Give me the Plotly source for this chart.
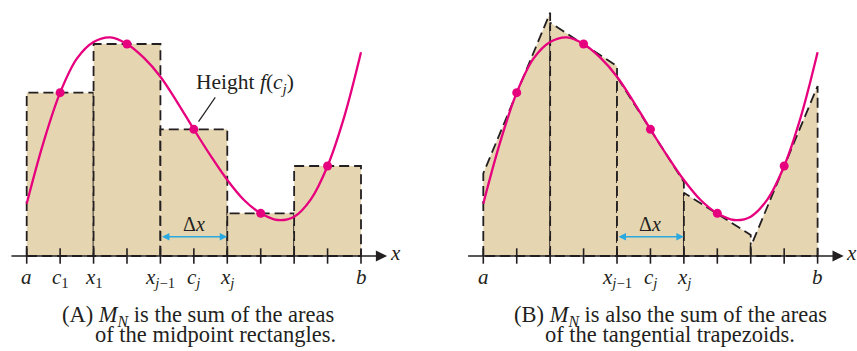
import plotly.graph_objects as go

# ---------------- data ----------------
nodes = [0, 2, 4, 6, 8, 10]                 # partition points a=x0 ... b=x5
mids = [1, 3, 5, 7, 9]                      # midpoints c_j
f_mid = [4.90, 6.36, 3.80, 1.28, 2.70]      # f(c_j) = rectangle heights
tan_left = [2.48, 7.00, 5.37, 1.90, 0.28]   # tangent-line height at left end
tan_right = [7.30, 5.70, 2.22, 0.63, 5.10]  # tangent-line height at right end

curve_x = [0, 0.5, 1, 1.5, 2, 2.5, 3, 3.5, 4, 4.5, 5,
           5.5, 6, 6.5, 7, 7.5, 8, 8.5, 9, 9.5, 10]
curve_y = [1.57, 3.40, 4.90, 5.92, 6.42, 6.56, 6.36, 5.95, 5.38, 4.62, 3.80,
           3.01, 2.28, 1.68, 1.28, 1.08, 1.18, 1.70, 2.70, 4.18, 6.11]

tick_x = [0, 1, 2, 3, 4, 5, 6, 7, 8, 9, 10]
tickpos_A = [0, 1, 2, 4, 5, 6, 10]
ticklab_A = ["<i>a</i>", "<i>c</i><sub>1</sub>", "<i>x</i><sub>1</sub>",
             "<i>x</i><sub><i>j</i>−1</sub>", "<i>c<sub>j</sub></i>",
             "<i>x<sub>j</sub></i>", "<i>b</i>"]
tickpos_B = [0, 4, 5, 6, 10]
ticklab_B = ["<i>a</i>", "<i>x</i><sub><i>j</i>−1</sub>", "<i>c<sub>j</sub></i>",
             "<i>x<sub>j</sub></i>", "<i>b</i>"]

caption_A = ["(A) <i>M<sub>N</sub></i> is the sum of the areas",
             "of the midpoint rectangles."]
caption_B = ["(B) <i>M<sub>N</sub></i> is also the sum of the areas",
             "of the tangential trapezoids."]

# ---------------- style ----------------
W, H = 857, 351
FILL = "#E6D5B1"
INK = "#231F20"
MAG = "#E6007E"
CYAN = "#29A9E0"
FONT = "Liberation Serif"
DASH = "10px,5px"

axis_start, axis_tip, x_label_pos = -0.5, 10.78, 11.02
dx_y, dx_label_y = 0.58, 0.95

fig = go.Figure()


def panel(xa, ya, tops_left, tops_right):
    # filled shapes
    for i in range(len(mids)):
        x0, x1 = nodes[i], nodes[i + 1]
        fig.add_trace(go.Scatter(
            x=[x0, x0, x1, x1, x0], y=[0, tops_left[i], tops_right[i], 0, 0],
            mode="lines", fill="toself", fillcolor=FILL,
            line=dict(color=INK, width=1.8, dash=DASH),
            xaxis=xa, yaxis=ya, hoverinfo="skip", showlegend=False))
    # tick marks
    fig.add_trace(go.Scatter(
        x=tick_x, y=[0] * len(tick_x), mode="markers",
        marker=dict(symbol="line-ns", size=11, line=dict(color=INK, width=1.6)),
        xaxis=xa, yaxis=ya, hoverinfo="skip", showlegend=False))
    # curve
    fig.add_trace(go.Scatter(
        x=curve_x, y=curve_y, mode="lines", line=dict(color=MAG, width=2.3, shape="spline"),
        xaxis=xa, yaxis=ya, hoverinfo="skip", showlegend=False))
    # midpoint dots
    fig.add_trace(go.Scatter(
        x=mids, y=f_mid, mode="markers", marker=dict(color=MAG, size=9),
        xaxis=xa, yaxis=ya, hoverinfo="skip", showlegend=False))


panel("x", "y", f_mid, f_mid)
panel("x2", "y2", tan_left, tan_right)

# leader line for the "Height f(c_j)" label
leader_x = [5.64, 5.14]
leader_y = [4.76, 4.03]
fig.add_trace(go.Scatter(x=leader_x, y=leader_y, mode="lines",
                         line=dict(color=INK, width=1.2),
                         xaxis="x", yaxis="y", hoverinfo="skip", showlegend=False))

ann = []
for xr, yr in (("x", "y"), ("x2", "y2")):
    # x axis with arrow
    ann.append(dict(x=axis_tip, y=0, ax=axis_start, ay=0, xref=xr, yref=yr,
                    axref=xr, ayref=yr, text="", showarrow=True, arrowhead=2,
                    arrowsize=1.4, arrowwidth=1.6, arrowcolor=INK, standoff=0))
    ann.append(dict(x=x_label_pos, y=0.1, xref=xr, yref=yr, text="<i>x</i>",
                    showarrow=False, font=dict(family=FONT, size=21, color=INK)))
    # delta x arrow
    ann.append(dict(x=nodes[3], y=dx_y, ax=nodes[2], ay=dx_y, xref=xr, yref=yr,
                    axref=xr, ayref=yr, text="", showarrow=True, arrowhead=2,
                    arrowside="end+start", arrowsize=1.0, arrowwidth=1.5,
                    arrowcolor=CYAN, standoff=0, startstandoff=0))
    ann.append(dict(x=mids[2], y=dx_label_y, xref=xr, yref=yr, text="Δ<i>x</i>",
                    showarrow=False, font=dict(family=FONT, size=20, color=INK)))

tick_font = dict(family=FONT, size=21, color=INK)
for pos, lab in zip(tickpos_A, ticklab_A):
    ann.append(dict(x=pos, y=-0.2, xref="x", yref="y", text=lab, showarrow=False,
                    yanchor="top", font=tick_font))
for pos, lab in zip(tickpos_B, ticklab_B):
    ann.append(dict(x=pos, y=-0.2, xref="x2", yref="y2", text=lab, showarrow=False,
                    yanchor="top", font=tick_font))

ann.append(dict(x=5.0, y=5.19, xref="x", yref="y", xanchor="left",
                text="Height <i>f</i>(<i>c<sub>j</sub></i>)", showarrow=False,
                font=dict(family=FONT, size=21.5, color=INK)))

cap_font = dict(family=FONT, size=22.5, color=INK)
ann.append(dict(x=60 / W, y=1 - 300 / H, xref="paper", yref="paper", xanchor="left",
                yanchor="top", text=caption_A[0], showarrow=False, font=cap_font))
ann.append(dict(x=93 / W, y=1 - 320 / H, xref="paper", yref="paper", xanchor="left",
                yanchor="top", text=caption_A[1], showarrow=False, font=cap_font))
ann.append(dict(x=512 / W, y=1 - 300 / H, xref="paper", yref="paper", xanchor="left",
                yanchor="top", text=caption_B[0], showarrow=False, font=cap_font))
ann.append(dict(x=543 / W, y=1 - 320 / H, xref="paper", yref="paper", xanchor="left",
                yanchor="top", text=caption_B[1], showarrow=False, font=cap_font))

xscale = 33.43
yscale = 33.33
ax_px_A, ax_px_B, axis_row = 26.7, 483.3, 256
hidden = dict(visible=False, fixedrange=True)
fig.update_layout(
    width=W, height=H, margin=dict(l=0, r=0, t=0, b=0),
    paper_bgcolor="white", plot_bgcolor="rgba(0,0,0,0)",
    xaxis=dict(domain=[0, 420 / W], range=[-ax_px_A / xscale, (420 - ax_px_A) / xscale], **hidden),
    xaxis2=dict(domain=[430 / W, 1], range=[(430 - ax_px_B) / xscale, (W - ax_px_B) / xscale], **hidden),
    yaxis=dict(domain=[0, 1], range=[-(H - axis_row) / yscale, axis_row / yscale], **hidden),
    yaxis2=dict(domain=[0, 1], range=[-(H - axis_row) / yscale, axis_row / yscale], anchor="x2", **hidden),
    annotations=ann,
    showlegend=False,
)
fig.write_html("out.html", config={"displayModeBar": False},
               post_script="document.body.style.margin='0';document.body.style.overflow='hidden';")
